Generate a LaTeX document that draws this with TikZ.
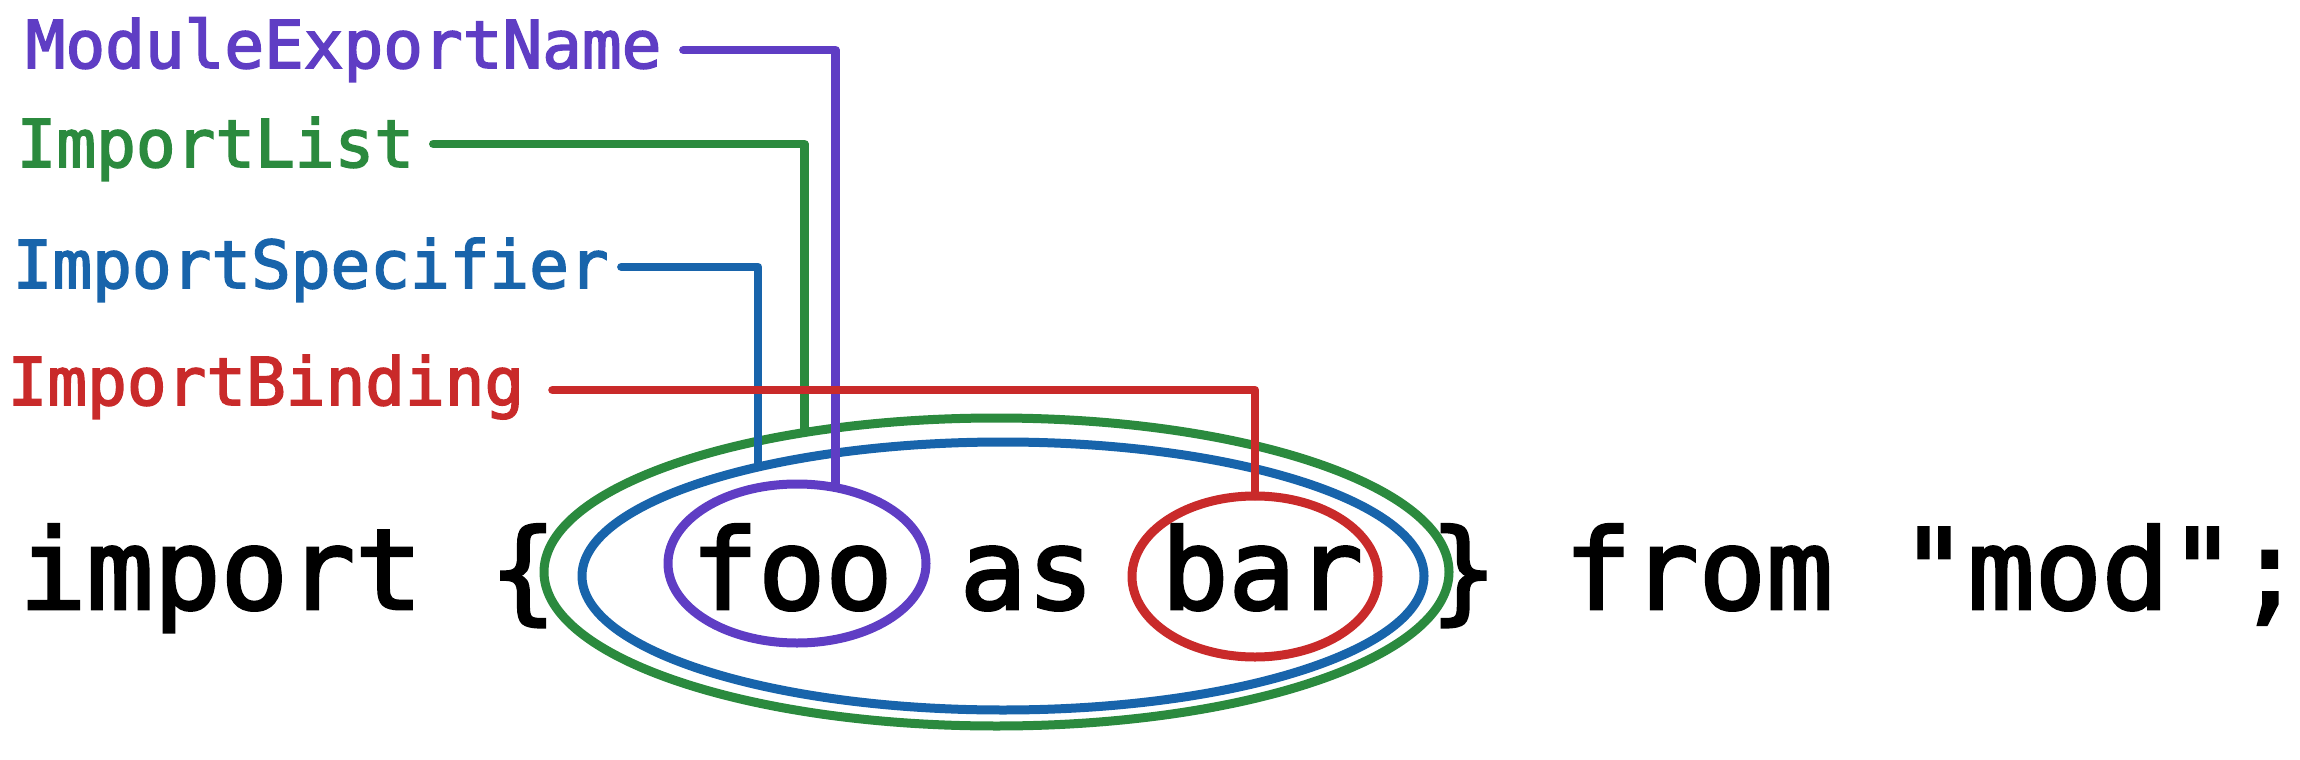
\documentclass[tikz,border=0pt]{standalone}
\usepackage{fontspec}
\usetikzlibrary{shapes.geometric}
\newfontfamily\codefont[FakeBold=2.5]{DejaVu Sans Mono}
\definecolor{cpurple}{HTML}{5F3DC4}
\definecolor{cgreen}{HTML}{2B8A3E}
\definecolor{cblue}{HTML}{1864AB}
\definecolor{cred}{HTML}{C92A2A}
\begin{document}
\begin{tikzpicture}[x=1pt,y=-1pt,
  lbl/.style={anchor=base west, inner sep=0pt, font=\codefont\fontsize{66}{70}\selectfont},
  code/.style={anchor=base west, inner sep=0pt, font=\codefont\fontsize{111.6}{120}\selectfont},
  ring/.style={ellipse, draw, line width=9pt, inner sep=0pt, outer sep=0pt},
  conn/.style={line width=8.5pt, line cap=round, line join=round}]
\useasboundingbox (0,0) rectangle (2300,760);

% code line
\node[code] (codeline) at (19,609) {import~\{~~foo~as~bar~\}~from~"mod";};

% rings
\node[ring, draw=cgreen, minimum width=905pt, minimum height=308pt] (listell) at (996.5,572) {};
\node[ring, draw=cblue, minimum width=842pt, minimum height=268pt] (specell) at (1003,576) {};
\node[ring, draw=cpurple, minimum width=258pt, minimum height=159pt] (fooell) at (797,563.5) {};
\node[ring, draw=cred, minimum width=246pt, minimum height=161pt] (barell) at (1255,576.5) {};

% labels
\node[lbl, text=cpurple] (men) at (25.5,68) {ModuleExportName};
\node[lbl, text=cgreen] (il) at (16.5,167) {ImportList};
\node[lbl, text=cblue] (is) at (12.5,288) {ImportSpecifier};
\node[lbl, text=cred] (ib) at (7.5,405) {ImportBinding};

% connectors
\draw[conn, cpurple] ([shift={(21.7pt,18pt)}]men.base east) -| (fooell.63.4);
\draw[conn, cgreen] ([shift={(19pt,23pt)}]il.base east) -| (listell.144.6);
\draw[conn, cblue] ([shift={(12.4pt,21pt)}]is.base east) -| (specell.156.4);
\draw[conn, cred] ([shift={(28pt,15pt)}]ib.base east) -| (barell.90);
\end{tikzpicture}
\end{document}
